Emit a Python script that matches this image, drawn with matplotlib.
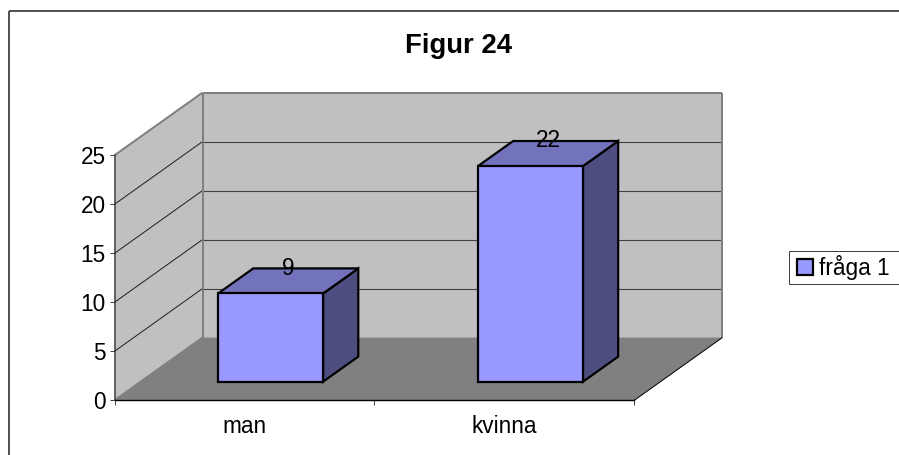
import matplotlib
matplotlib.use("Agg")
import matplotlib.pyplot as plt
from matplotlib.lines import Line2D
from matplotlib.patches import Patch, Rectangle

plt.rcParams['font.family'] = ['Liberation Sans', 'DejaVu Sans']

title = "Figur 24"
categories = ["man", "kvinna"]
values = [9, 22]
series_name = "fråga 1"
yticks = [0, 5, 10, 15, 20, 25]

W, H = 899, 455
DEPTH_X = 88 / 259.9     # depth offset, category units
DEPTH_Y = 62.7 / 9.8     # depth offset, value units
BAR_W = 0.404
BAR_D = 0.40
BAR_Z0 = 0.297
FS = 16.3

WALL = '#C0C0C0'; FLOOR = '#808080'; EDGE = '#808080'
FRONT = '#9999FF'; TOP = '#7373BD'; SIDE = '#4D4D80'
DARK = '#404040'


def px(n):
    return n * 0.72


def proj(x, y, z):
    return (x + z * DEPTH_X, y + z * DEPTH_Y)


def poly(ax, pts, **kw):
    xs, ys = zip(*[proj(*p) for p in pts])
    ax.fill(xs, ys, clip_on=False, **kw)


def seg(ax, a, b, **kw):
    (x0, y0), (x1, y1) = proj(*a), proj(*b)
    ax.plot([x0, x1], [y0, y1], clip_on=False, solid_capstyle='butt', **kw)


fig = plt.figure(figsize=(W / 100, H / 100), dpi=100, facecolor='white')
ax = fig.add_axes([114.5 / W, (H - 400.3) / H, 519.8 / W, 245 / H])
ax.patch.set_visible(False)
n = len(categories)
ymax = yticks[-1]
ax.set_xlim(0, n)
ax.set_ylim(0, ymax)

# walls and floor
poly(ax, [(0, 0, 1), (n, 0, 1), (n, ymax, 1), (0, ymax, 1)], fc=WALL, ec='none', zorder=1)
poly(ax, [(0, 0, 0), (0, 0, 1), (0, ymax, 1), (0, ymax, 0)], fc=WALL, ec='none', zorder=1)
poly(ax, [(0, 0, 0), (n, 0, 0), (n, 0, 1), (0, 0, 1)], fc=FLOOR, ec='none', zorder=1.5)

# gridlines
for t in yticks[1:-1]:
    seg(ax, (0, t, 0), (0, t, 1), color='#202020', lw=px(1), zorder=2)
    seg(ax, (0, t, 1), (n, t, 1), color=DARK, lw=px(1.1), zorder=2)

# wall edges
edge = dict(color=EDGE, lw=px(2), zorder=2.5)
seg(ax, (0, 0, 1), (0, ymax, 1), **edge)
seg(ax, (0, ymax, 1), (n, ymax, 1), **edge)
seg(ax, (n, 0, 1), (n, ymax, 1), **edge)
seg(ax, (0, ymax, 0), (0, ymax, 1), **edge)
seg(ax, (0, 0, 0), (0, 0, 1), **edge)
seg(ax, (n, 0, 0), (n, 0, 1), color='black', lw=px(1), zorder=2.5)

# bars
bar_kw = dict(ec='black', lw=px(2.2), joinstyle='miter', zorder=3)
for i, v in enumerate(values):
    x0 = i + (1 - BAR_W) / 2
    x1 = x0 + BAR_W
    z0 = BAR_Z0
    z1 = BAR_Z0 + BAR_D
    poly(ax, [(x1, 0, z0), (x1, 0, z1), (x1, v, z1), (x1, v, z0)], fc=SIDE, **bar_kw)
    poly(ax, [(x0, v, z0), (x1, v, z0), (x1, v, z1), (x0, v, z1)], fc=TOP, **bar_kw)
    poly(ax, [(x0, 0, z0), (x1, 0, z0), (x1, v, z0), (x0, v, z0)], fc=FRONT, **bar_kw)
    lx, _ = proj((x0 + x1) / 2, v, (z0 + z1) / 2)
    _, ly = proj(x0, v, z1)
    ax.text(lx, ly, str(v), ha='center', va='center', fontsize=FS, color='black',
            zorder=4, clip_on=False)

# axes
for s in ('top', 'right'):
    ax.spines[s].set_visible(False)
ax.spines['left'].set_color(DARK)
ax.spines['left'].set_linewidth(px(1.5))
ax.spines['bottom'].set_color('black')
ax.spines['bottom'].set_linewidth(px(1.4))
for s in ax.spines.values():
    s.set_zorder(2.8)
ax.set_yticks(yticks)
ax.set_xticks(range(n + 1))
ax.set_xticklabels([])
ax.set_xticks([i + 0.5 for i in range(n)], minor=True)
ax.set_xticklabels(categories, minor=True)
ax.tick_params(axis='y', length=px(5), width=px(1), color=DARK, labelsize=FS, pad=px(4))
ax.tick_params(axis='x', which='major', length=px(5), width=px(1), color=DARK)
ax.tick_params(axis='x', which='minor', length=0, labelsize=FS, pad=px(15))

fig.text(458.5 / W, (H - 46) / H, title, ha='center', va='center', fontsize=19.8,
         fontweight='bold', color='black')

# chart frame
frame = dict(color=DARK, lw=px(1.8), solid_capstyle='butt', transform=fig.transFigure)
fig.add_artist(Line2D([9 / W, 9 / W], [0, (H - 10.5) / H], **frame))
fig.add_artist(Line2D([9 / W, 1], [(H - 10.5) / H, (H - 10.5) / H], **frame))

# legend box runs off the right edge of the picture
fig.add_artist(Rectangle((789.3 / W, (H - 284) / H), 120 / W, 33.3 / H, fc='white', ec=DARK,
                         lw=px(1), transform=fig.transFigure))
fig.legend(handles=[Patch(fc=FRONT, ec='black', lw=px(2.2), label=series_name)],
           loc='center left', bbox_to_anchor=(797 / W, (H - 267.5) / H),
           fontsize=FS, frameon=False,
           borderaxespad=0, borderpad=0, handlelength=0.70, handleheight=0.66,
           handletextpad=0.27)

fig.savefig('out.png', dpi=100, facecolor='white')
